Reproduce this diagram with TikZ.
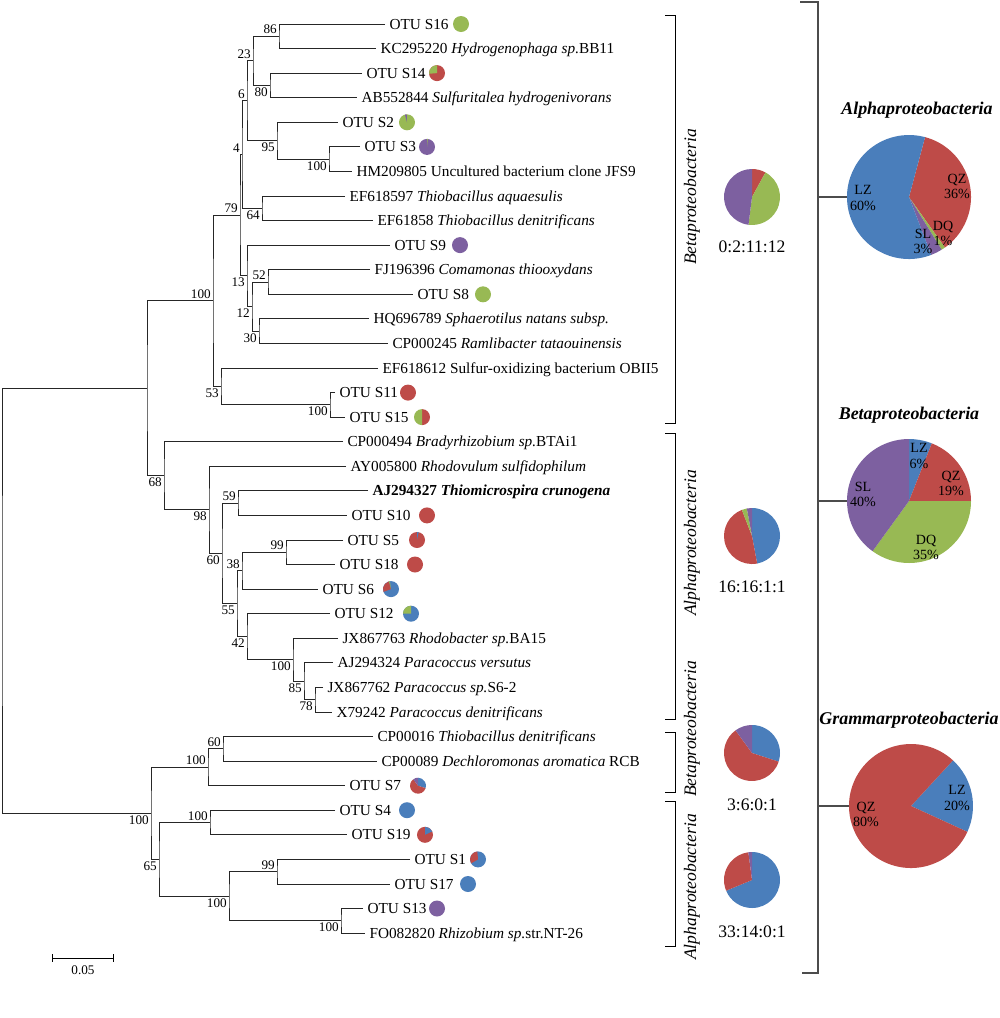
\documentclass[tikz,border=0pt]{standalone}
\usepackage{fontspec}
\setmainfont{Liberation Serif}
\usetikzlibrary{arrows.meta, calc, positioning}
\definecolor{lzblue}{HTML}{4A7EBB}
\definecolor{qzred}{HTML}{BE4B48}
\definecolor{dqgreen}{HTML}{98B954}
\definecolor{slpurple}{HTML}{7D60A0}
\tikzstyle{leaf} = [anchor=west, inner xsep=2.3pt, inner ysep=0pt, text height=5.7pt, text depth=0pt, font=\fontsize{8.7}{10}\selectfont]
\tikzstyle{boot} = [inner sep=1pt, font=\fontsize{7.5}{9}\selectfont]
\tikzstyle{cladelabel} = [rotate=90, font=\fontsize{10}{12}\selectfont\itshape]
\tikzstyle{ratiotext} = [font=\fontsize{10}{12}\selectfont]
\tikzstyle{pietitle} = [font=\fontsize{10.2}{12}\selectfont\bfseries\itshape]
\tikzstyle{pct} = [align=center, inner sep=0pt, font=\fontsize{8}{8.6}\selectfont]
\tikzstyle{pienode} = [circle, inner sep=0pt, minimum size=2.48cm]
\tikzstyle{brk} = [line width=0.9pt, draw=black!70]
\newcommand{\pieslice}[5]{\fill[#5] (#1) -- ++({#3-90}:#2) arc[start angle={#3-90}, end angle={#4-90}, radius=#2] -- cycle;}

\begin{document}
\begin{tikzpicture}[x=0.02cm, y=-0.02cm, line width=0.55pt, >=Latex]
\useasboundingbox (0,0) rectangle (1000,1018);

  % leaves
  \node[leaf] (l1) at (385,24.0) {OTU S16};
  \node[leaf] (l2) at (376,48.6) {KC295220 \textit{Hydrogenophaga sp.}BB11};
  \node[leaf] (l3) at (362,73.1) {OTU S14};
  \node[leaf] (l4) at (357,97.7) {AB552844 \textit{Sulfuritalea hydrogenivorans}};
  \node[leaf] (l5) at (338,122.3) {OTU S2};
  \node[leaf] (l6) at (360,146.9) {OTU S3};
  \node[leaf] (l7) at (352,171.4) {HM209805 Uncultured bacterium clone JFS9};
  \node[leaf] (l8) at (345,196.0) {EF618597 \textit{Thiobacillus aquaesulis}};
  \node[leaf] (l9) at (373,220.6) {EF61858 \textit{Thiobacillus denitrificans}};
  \node[leaf] (l10) at (390,245.1) {OTU S9};
  \node[leaf] (l11) at (370,269.7) {FJ196396 \textit{Comamonas thiooxydans}};
  \node[leaf] (l12) at (413,294.3) {OTU S8};
  \node[leaf] (l13) at (369,318.8) {HQ696789 \textit{Sphaerotilus natans subsp.}};
  \node[leaf] (l14) at (388,343.4) {CP000245 \textit{Ramlibacter tataouinensis}};
  \node[leaf] (l15) at (378,368.0) {EF618612 Sulfur-oxidizing bacterium OBII5};
  \node[leaf] (l16) at (335,392.6) {OTU S11};
  \node[leaf] (l17) at (345,417.1) {OTU S15};
  \node[leaf] (l18) at (343,441.7) {CP000494 \textit{Bradyrhizobium sp.}BTAi1};
  \node[leaf] (l19) at (346,466.3) {AY005800 \textit{Rhodovulum sulfidophilum}};
  \node[leaf] (l20) at (368,490.8) {\textbf{AJ294327 \textit{Thiomicrospira crunogena}}};
  \node[leaf] (l21) at (347,515.4) {OTU S10};
  \node[leaf] (l22) at (343,540.0) {OTU S5};
  \node[leaf] (l23) at (335,564.5) {OTU S18};
  \node[leaf] (l24) at (318,589.1) {OTU S6};
  \node[leaf] (l25) at (330,613.7) {OTU S12};
  \node[leaf] (l26) at (338,638.3) {JX867763 \textit{Rhodobacter sp.}BA15};
  \node[leaf] (l27) at (333,662.8) {AJ294324 \textit{Paracoccus versutus}};
  \node[leaf] (l28) at (323,687.4) {JX867762 \textit{Paracoccus sp.}S6-2};
  \node[leaf] (l29) at (332,712.0) {X79242 \textit{Paracoccus denitrificans}};
  \node[leaf] (l30) at (373,736.5) {CP00016 \textit{Thiobacillus denitrificans}};
  \node[leaf] (l31) at (377,761.1) {CP00089 \textit{Dechloromonas aromatica} RCB};
  \node[leaf] (l32) at (345,785.7) {OTU S7};
  \node[leaf] (l33) at (335,810.2) {OTU S4};
  \node[leaf] (l34) at (347,834.8) {OTU S19};
  \node[leaf] (l35) at (410,859.4) {OTU S1};
  \node[leaf] (l36) at (390,884.0) {OTU S17};
  \node[leaf] (l37) at (363,908.5) {OTU S13};
  \node[leaf] (l38) at (365,933.1) {FO082820 \textit{Rhizobium sp.}str.NT-26};

  % inner nodes
  \coordinate (n86) at (279,36.3);
  \coordinate (n80) at (270,85.4);
  \coordinate (n23) at (253,60.85);
  \coordinate (n100a) at (329,159.15);
  \coordinate (n95) at (277,140.7);
  \coordinate (n6) at (247,100.8);
  \coordinate (n64) at (262,208.3);
  \coordinate (n4) at (242,154.55);
  \coordinate (n52) at (268,282);
  \coordinate (n30) at (259,331.1);
  \coordinate (n12) at (252,306.55);
  \coordinate (n13) at (247,275.8);
  \coordinate (n79) at (240,215.2);
  \coordinate (n100b) at (330,404.85);
  \coordinate (n53) at (221,386.4);
  \coordinate (n100be) at (213,300.8);
  \coordinate (n59) at (238,503.1);
  \coordinate (n99b) at (286,552.25);
  \coordinate (n38) at (242,570.7);
  \coordinate (n78) at (315,699.7);
  \coordinate (n85) at (304,681.25);
  \coordinate (n100h) at (293,659.8);
  \coordinate (n42) at (247,636.75);
  \coordinate (n55) at (237,603.7);
  \coordinate (n60) at (222,553.4);
  \coordinate (n98) at (209,509.85);
  \coordinate (n68) at (164,475.8);
  \coordinate (nup) at (147,388.3);
  \coordinate (n60b) at (223,748.8);
  \coordinate (n100d) at (208,767.25);
  \coordinate (n100e) at (210,822.5);
  \coordinate (n99c) at (277,871.7);
  \coordinate (n100g) at (341,920.8);
  \coordinate (n100f) at (229,896.25);
  \coordinate (n65) at (159,859.4);
  \coordinate (n100c) at (151,813.3);
  \coordinate (root) at (2,600.8);

  \begin{scope}[draw=black!85]
  \draw (l1.west) -| (n86) |- (l2.west);
  \draw (l3.west) -| (n80) |- (l4.west);
  \draw (n86) -| (n23) |- (n80);
  \draw (l6.west) -| (n100a) |- (l7.west);
  \draw (l5.west) -| (n95) |- (n100a);
  \draw (n23) -| (n6) |- (n95);
  \draw (l8.west) -| (n64) |- (l9.west);
  \draw (n6) -| (n4) |- (n64);
  \draw (l11.west) -| (n52) |- (l12.west);
  \draw (l13.west) -| (n30) |- (l14.west);
  \draw (n52) -| (n12) |- (n30);
  \draw (l10.west) -| (n13) |- (n12);
  \draw (n4) -| (n79) |- (n13);
  \draw (l16.west) -| (n100b) |- (l17.west);
  \draw (l15.west) -| (n53) |- (n100b);
  \draw (n79) -| (n100be) |- (n53);

  \draw (l20.west) -| (n59) |- (l21.west);
  \draw (l22.west) -| (n99b) |- (l23.west);
  \draw (n99b) -| (n38) |- (l24.west);
  \draw (l28.west) -| (n78) |- (l29.west);
  \draw (l27.west) -| (n85) |- (n78);
  \draw (l26.west) -| (n100h) |- (n85);
  \draw (l25.west) -| (n42) |- (n100h);
  \draw (n38) -| (n55) |- (n42);
  \draw (n59) -| (n60) |- (n55);
  \draw (l19.west) -| (n98) |- (n60);
  \draw (l18.west) -| (n68) |- (n98);
  \draw (n100be) -| (nup) |- (n68);

  \draw (l30.west) -| (n60b) |- (l31.west);
  \draw (n60b) -| (n100d) |- (l32.west);
  \draw (l33.west) -| (n100e) |- (l34.west);
  \draw (l35.west) -| (n99c) |- (l36.west);
  \draw (l37.west) -| (n100g) |- (l38.west);
  \draw (n99c) -| (n100f) |- (n100g);
  \draw (n100e) -| (n65) |- (n100f);
  \draw (n100d) -| (n100c) |- (n65);
  \draw (nup) -| (root) |- (n100c);
  \end{scope}

  % bootstrap values
  \node[boot, above left] at (n86) {86};
  \node[boot, below left] at (n80) {80};
  \node[boot, above left] at (n23) {23};
  \node[boot, below left] at (n100a) {100};
  \node[boot, below left] at (n95) {95};
  \node[boot, above left] at (n6) {6};
  \node[boot, below left] at (n64) {64};
  \node[boot, above left] at (n4) {4};
  \node[boot, above left] at (n52) {52};
  \node[boot, below left] at (n30) {30};
  \node[boot, below left] at (n12) {12};
  \node[boot, below left] at (n13) {13};
  \node[boot, above left] at (n79) {79};
  \node[boot, below left] at (n100b) {100};
  \node[boot, below left] at (n53) {53};
  \node[boot, above left] at (n100be) {100};
  \node[boot, above left] at (n59) {59};
  \node[boot, above left] at (n99b) {99};
  \node[boot, above left] at (n38) {38};
  \node[boot, below left] at (n78) {78};
  \node[boot, below left] at (n85) {85};
  \node[boot, below left] at (n100h) {100};
  \node[boot, below left] at (n42) {42};
  \node[boot, below left] at (n55) {55};
  \node[boot, below left] at (n60) {60};
  \node[boot, below left] at (n98) {98};
  \node[boot, below left] at (n68) {68};
  \node[boot, above left] at (n60b) {60};
  \node[boot, above left] at (n100d) {100};
  \node[boot, above left] at (n100e) {100};
  \node[boot, above left] at (n99c) {99};
  \node[boot, below left] at (n100g) {100};
  \node[boot, below left] at (n100f) {100};
  \node[boot, below left] at (n65) {65};
  \node[boot, below left] at (n100c) {100};

  % scale bar
  \coordinate (s0) at (52,958);
  \coordinate (s1) at (114,958);
  \draw[{Bar[width=4.5pt]}-{Bar[width=4.5pt]}] (s0) -- (s1) node[midway, below=3pt, boot] {0.05};

  % OTU pies
  \coordinate (p16) at (461,24.0);
  \coordinate (p14) at (437,73.1);
  \coordinate (p2) at (407,122.3);
  \coordinate (p3) at (427,146.9);
  \coordinate (p9) at (460,245.1);
  \coordinate (p8) at (483,294.3);
  \coordinate (p11) at (408,392.6);
  \coordinate (p15) at (422,417.1);
  \coordinate (p10) at (427,515.4);
  \coordinate (p5) at (417,540.0);
  \coordinate (p18) at (415,564.5);
  \coordinate (p6) at (391,589.1);
  \coordinate (p12) at (411,613.7);
  \coordinate (p7) at (418,785.7);
  \coordinate (p4) at (407,810.2);
  \coordinate (p19) at (425,834.8);
  \coordinate (p1) at (478,859.4);
  \coordinate (p17) at (468,884.0);
  \coordinate (p13) at (437,908.5);

  \fill[dqgreen] (p16) circle[radius=8];
  \fill[qzred] (p14) circle[radius=8]; \pieslice{p14}{8}{265}{360}{dqgreen}
  \fill[dqgreen] (p2) circle[radius=8]; \pieslice{p2}{8}{345}{358}{slpurple}
  \fill[slpurple] (p3) circle[radius=8]; \pieslice{p3}{8}{0}{6}{dqgreen}
  \fill[slpurple] (p9) circle[radius=8];
  \fill[dqgreen] (p8) circle[radius=8];
  \fill[qzred] (p11) circle[radius=8];
  \pieslice{p15}{8}{0}{180}{qzred} \pieslice{p15}{8}{180}{360}{dqgreen}
  \fill[qzred] (p10) circle[radius=8];
  \fill[qzred] (p5) circle[radius=8]; \pieslice{p5}{8}{0}{12}{lzblue}
  \fill[qzred] (p18) circle[radius=8];
  \fill[lzblue] (p6) circle[radius=8]; \pieslice{p6}{8}{250}{345}{qzred} \pieslice{p6}{8}{345}{352}{dqgreen}
  \fill[lzblue] (p12) circle[radius=8]; \pieslice{p12}{8}{270}{360}{dqgreen}
  \pieslice{p7}{8}{0}{108}{lzblue} \pieslice{p7}{8}{108}{324}{qzred} \pieslice{p7}{8}{324}{360}{slpurple}
  \fill[lzblue] (p4) circle[radius=8];
  \fill[qzred] (p19) circle[radius=8]; \pieslice{p19}{8}{0}{65}{lzblue}
  \fill[lzblue] (p1) circle[radius=8]; \pieslice{p1}{8}{240}{355}{qzred}
  \fill[lzblue] (p17) circle[radius=8];
  \fill[slpurple] (p13) circle[radius=8];

  % clade brackets
  \coordinate (b1t) at (665,15);  \coordinate (b1b) at (665,423);
  \coordinate (b2t) at (665,433); \coordinate (b2b) at (665,719);
  \coordinate (b3t) at (665,732); \coordinate (b3b) at (665,792);
  \coordinate (b4t) at (665,801); \coordinate (b4b) at (665,946);
  \draw (b1t) -- ++(10,0) |- (b1b);
  \draw (b2t) -- ++(10,0) |- (b2b);
  \draw (b3t) -- ++(10,0) |- (b3b);
  \draw (b4t) -- ++(10,0) |- (b4b);
  \node[cladelabel] at (692,197) {Betaproteobacteria};
  \node[cladelabel] at (692,543) {Alphaproteobacteria};
  \node[cladelabel] at (692,729) {Betaproteobacteria};
  \node[cladelabel] at (692,887) {Alphaproteobacteria};

  % ratio pies
  \coordinate (r1) at (752,197);
  \coordinate (r2) at (752,536);
  \coordinate (r3) at (752,753);
  \coordinate (r4) at (752,880);
  \pieslice{r1}{28}{0}{28.8}{qzred} \pieslice{r1}{28}{28.8}{187.2}{dqgreen} \pieslice{r1}{28}{187.2}{360}{slpurple}
  \pieslice{r2}{28}{0}{169.4}{lzblue} \pieslice{r2}{28}{169.4}{338.8}{qzred} \pieslice{r2}{28}{338.8}{349.4}{dqgreen} \pieslice{r2}{28}{349.4}{360}{slpurple}
  \pieslice{r3}{28}{0}{108}{lzblue} \pieslice{r3}{28}{108}{324}{qzred} \pieslice{r3}{28}{324}{360}{slpurple}
  \pieslice{r4}{28}{0}{247.5}{lzblue} \pieslice{r4}{28}{247.5}{352.5}{qzred} \pieslice{r4}{28}{352.5}{360}{slpurple}
  \node[ratiotext] at (752,247) {0:2:11:12};
  \node[ratiotext] at (752,587) {16:16:1:1};
  \node[ratiotext] at (752,805) {3:6:0:1};
  \node[ratiotext] at (752,932) {33:14:0:1};

  % summary bracket
  \coordinate (bt) at (800,2);
  \coordinate (bb) at (802,973);
  \draw[brk] (bt) -- ++(18,0) |- (bb);
  \coordinate (ja) at (818,197);
  \coordinate (jb) at (818,501);
  \coordinate (jc) at (818,806);

  % big pies
  \coordinate (ca) at (909,197);
  \coordinate (cb) at (909,501);
  \coordinate (cc) at (911,806);
  \node[pienode] (bigA) at (ca) {};
  \node[pienode] (bigB) at (cb) {};
  \node[pienode] (bigC) at (cc) {};
  \draw[brk] (ja) -- (bigA.west);
  \draw[brk] (jb) -- (bigB.west);
  \draw[brk] (jc) -- (bigC.west);

  \pieslice{ca}{62}{15}{144.6}{qzred} \pieslice{ca}{62}{144.6}{148.2}{dqgreen}
  \pieslice{ca}{62}{148.2}{159}{slpurple} \pieslice{ca}{62}{159}{375}{lzblue}
  \pieslice{cb}{62}{0}{21.6}{lzblue} \pieslice{cb}{62}{21.6}{90}{qzred}
  \pieslice{cb}{62}{90}{216}{dqgreen} \pieslice{cb}{62}{216}{360}{slpurple}
  \pieslice{cc}{62}{42.6}{114.6}{lzblue} \pieslice{cc}{62}{114.6}{402.6}{qzred}

  \node[pietitle] at (917,110) {Alphaproteobacteria};
  \node[pietitle] at (909,415) {Betaproteobacteria};
  \node[pietitle] at (909,720) {Grammarproteobacteria};

  \node[pct] at (863,198) {LZ\\60\%};
  \node[pct] at (957,186) {QZ\\36\%};
  \node[pct] at (943,233) {DQ\\1\%};
  \node[pct] at (923,241) {SL\\3\%};
  \node[pct] at (919,456) {LZ\\6\%};
  \node[pct] at (951,483) {QZ\\19\%};
  \node[pct] at (926,547) {DQ\\35\%};
  \node[pct] at (863,494) {SL\\40\%};
  \node[pct] at (957,798) {LZ\\20\%};
  \node[pct] at (866,814) {QZ\\80\%};

\end{tikzpicture}
\end{document}
